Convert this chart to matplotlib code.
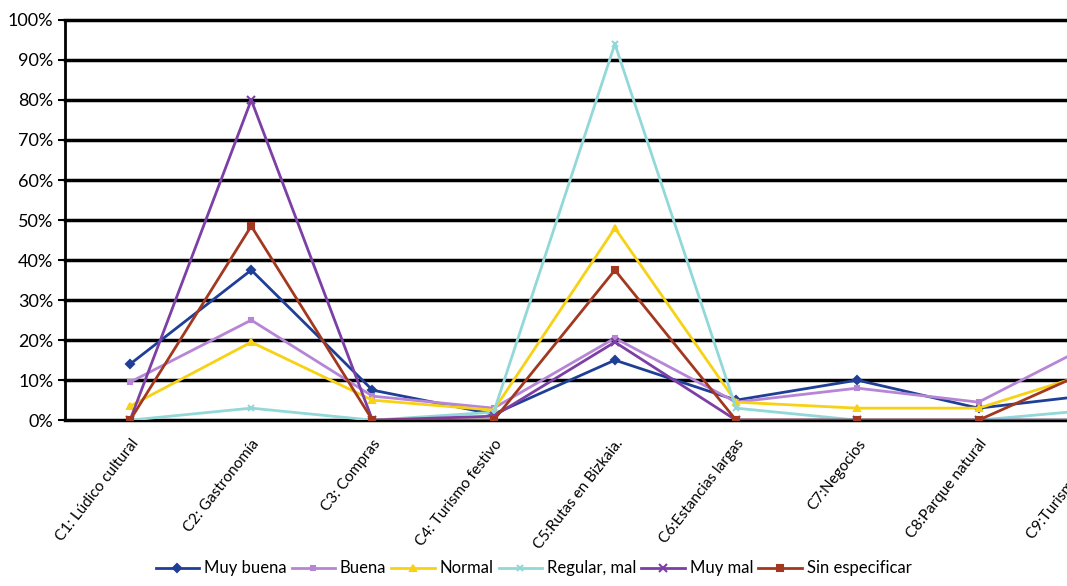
import matplotlib.pyplot as plt
import numpy as np

plt.rcParams['font.family'] = ['Lato', 'DejaVu Sans']

# Categories (C9 is cut off at the right edge in the original)
categories = ['C1: Lúdico cultural', 'C2: Gastronomía', 'C3: Compras',
              'C4: Turismo festivo', 'C5:Rutas en Bizkaia.', 'C6:Estancias largas',
              'C7:Negocios', 'C8:Parque natural', 'C9:Turismo alavés']

muy_buena = [14, 37.5, 7.5, 1.5, 15, 5, 10, 3, 6.5]
buena = [9.5, 25, 6, 3, 20.5, 4.5, 8, 4.5, 20]
normal = [3.5, 19.5, 5, 2.5, 48, 4.5, 3, 3, 12.5]
regular_mal = [0, 3, 0, 2, 94, 3, 0, 0, 2.7]
muy_mal = [0, 80, 0, 1, 19.5, 0, 0, 0, 0]
sin_especificar = [0, 48.5, 0, 0, 37.5, 0, 0, 0, 13.5]

series = [
    ('Muy buena', muy_buena, '#1f3f96', 'D', 4),
    ('Buena', buena, '#b685d6', 's', 3),
    ('Normal', normal, '#f7d214', '^', 5),
    ('Regular, mal', regular_mal, '#93d8d8', 'x', 5),
    ('Muy mal', muy_mal, '#7c3fa6', 'x', 6),
    ('Sin especificar', sin_especificar, '#a2381f', 's', 5),
]

fig = plt.figure(figsize=(10.67, 5.86), dpi=100)
ax = fig.add_axes([0.061, 0.283, 0.939, 0.683])

x = np.arange(len(categories))
for name, vals, color, marker, ms in series:
    ax.plot(x, vals, color=color, lw=2, marker=marker, ms=ms,
            markeredgewidth=1.5, label=name, zorder=3)

ax.set_yticks(np.arange(0, 101, 10))
ax.set_yticklabels([f'{v}%' for v in range(0, 101, 10)], fontsize=13)
for yv in range(0, 101, 10):
    ax.axhline(yv, color='black', lw=2.5, zorder=1, clip_on=False)

ax.set_xticks(x)
ax.set_xticklabels(categories, rotation=52, ha='right', rotation_mode='anchor',
                   fontsize=11)
ax.tick_params(axis='x', length=0, pad=12)
ax.tick_params(axis='y', length=5, width=1.5)

# the original chart is cropped just before C9
ax.set_xlim(-0.536, 7.73)
ax.set_ylim(0, 100)

# C9's label sits past the crop, only its start shows
ax.annotate(categories[-1], xy=(x[-1], 0), xycoords=('data', 'axes fraction'),
            xytext=(0, -12), textcoords='offset points', rotation=52,
            ha='right', va='top', rotation_mode='anchor', fontsize=11,
            annotation_clip=False)

for s in ['top', 'right', 'bottom']:
    ax.spines[s].set_visible(False)
ax.spines['left'].set_linewidth(2)

fig.legend(loc='center', bbox_to_anchor=(0.5, 0.03), ncol=6, frameon=False,
           fontsize=12, handlelength=2.6, columnspacing=0.3, handletextpad=0.3)

fig.savefig('out.png', dpi=100)
